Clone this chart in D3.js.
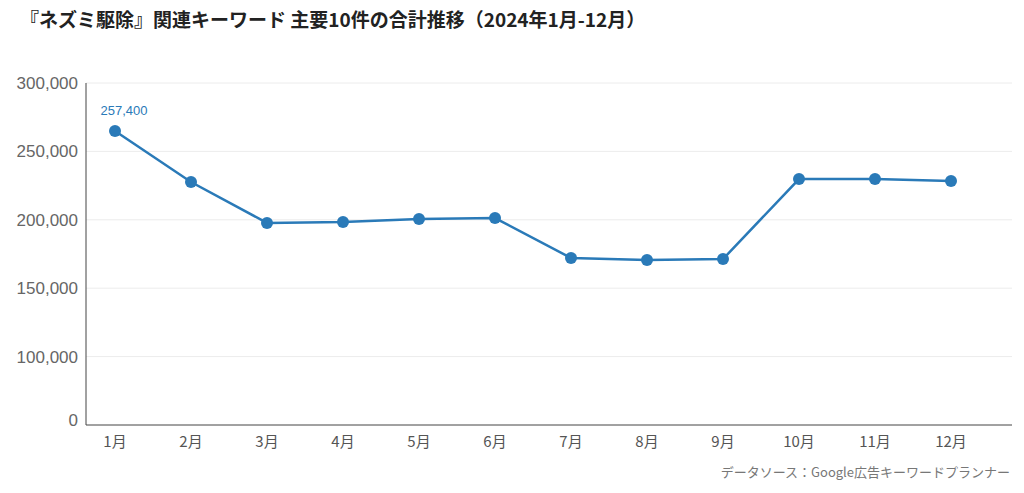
<!DOCTYPE html>
<html><head><meta charset="utf-8">
<script src="https://cdn.jsdelivr.net/npm/d3@7"></script>
<style>body{margin:0;background:#fff;font-family:"Noto Sans CJK JP",sans-serif;}</style>
</head><body>
<svg id="chart" width="1024" height="493"></svg>
<script>
var months=['1月','2月','3月','4月','5月','6月','7月','8月','9月','10月','11月','12月'];
var totals=[264900,227600,197700,198400,200600,201300,172100,170600,171300,229800,229800,228400];
var peakLabel='257,400';
// the bottom of the axis sits at 50,000 but is labelled 0, as in the original
var yTicks=[50000,100000,150000,200000,250000,300000];
var yTickLabels=['0','100,000','150,000','200,000','250,000','300,000'];

var svg=d3.select('#chart');
var x=d3.scalePoint().domain(months).range([115,951]);
var y=d3.scaleLinear().domain([50000,300000]).range([425,83]);

svg.append('text').attr('x',20).attr('y',27).attr('font-size',19).attr('font-weight','bold').attr('fill','#222')
  .text('『ネズミ駆除』関連キーワード 主要10件の合計推移（2024年1月-12月）');

svg.selectAll('.grid').data(yTicks.slice(1)).enter().append('line')
  .attr('x1',86).attr('x2',1012).attr('y1',d=>y(d)).attr('y2',d=>y(d))
  .attr('stroke','#ececec');

svg.selectAll('.yl').data(yTicks).enter().append('text')
  .attr('x',78).attr('y',(d,i)=>y(d)+(i==0?1:6)).attr('text-anchor','end').attr('font-size',17)
  .attr('font-family','Liberation Sans, Arial, sans-serif').attr('fill','#666').text((d,i)=>yTickLabels[i]);

svg.append('line').attr('x1',86).attr('x2',86).attr('y1',83).attr('y2',425).attr('stroke','#444');
svg.append('line').attr('x1',86).attr('x2',1012).attr('y1',425).attr('y2',425).attr('stroke','#444');

svg.selectAll('.xl').data(months).enter().append('text')
  .attr('x',d=>x(d)).attr('y',447).attr('text-anchor','middle').attr('font-size',15).attr('fill','#555').text(d=>d);

var line=d3.line().x((d,i)=>x(months[i])).y(d=>y(d));
svg.append('path').datum(totals).attr('d',line).attr('fill','none').attr('stroke','#2a7ab8').attr('stroke-width',2.5);
svg.selectAll('.pt').data(totals).enter().append('circle')
  .attr('cx',(d,i)=>x(months[i])).attr('cy',d=>y(d)).attr('r',6).attr('fill','#2a7ab8');

svg.append('text').attr('x',x(months[0])+9).attr('y',y(totals[0])-16).attr('text-anchor','middle')
  .attr('font-size',13).attr('font-family','Liberation Sans, Arial, sans-serif').attr('fill','#2a7ab8').text(peakLabel);

svg.append('text').attr('x',1010).attr('y',477).attr('text-anchor','end').attr('font-size',13).attr('fill','#777')
  .text('データソース：Google広告キーワードプランナー');
</script>
</body></html>
